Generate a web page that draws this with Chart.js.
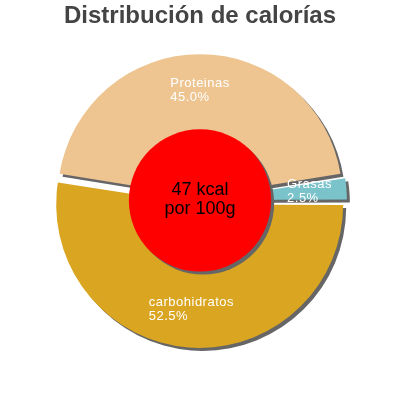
<!DOCTYPE html>
<html>
<head>
<meta charset="utf-8">
<script src="https://cdn.jsdelivr.net/npm/chart.js@4/dist/chart.umd.min.js"></script>
<style>
  html, body { margin: 0; padding: 0; background: #fff; }
  #wrap { width: 400px; height: 400px; }
</style>
</head>
<body>
<div id="wrap"><canvas id="chart"></canvas></div>
<script>
// calorie split, clockwise from 3 o'clock
const categories = ["carbohidratos", "Proteinas", "Grasas"];
const percents = [52.5, 45.0, 2.5];
const sliceColors = ["#DAA520", "#EEC591", "#7AC3CB"];
const centerLines = ["47 kcal", "por 100g"];
const title = "Distribución de calorías";

const FONT = "'Liberation Sans', Arial, sans-serif";

// gray drop shadow under the slices
const shadowPlugin = {
  id: "shadow",
  beforeDatasetsDraw(chart) {
    const ctx = chart.ctx;
    ctx.save();
    ctx.shadowColor = "#666";
    ctx.shadowOffsetX = 3;
    ctx.shadowOffsetY = 3;
    ctx.shadowBlur = 0;
  },
  afterDatasetsDraw(chart) {
    chart.ctx.restore();
  }
};

// red disc in the middle + slice labels
const centerPlugin = {
  id: "center",
  afterDatasetsDraw(chart) {
    const ctx = chart.ctx;
    const meta = chart.getDatasetMeta(0);
    const a0 = meta.data[0];
    const cx = a0.x, cy = a0.y, R = a0.outerRadius;

    ctx.save();
    ctx.shadowColor = "#666";
    ctx.shadowOffsetX = 3;
    ctx.shadowOffsetY = 3;
    ctx.beginPath();
    ctx.arc(cx, cy, R * 0.51, 0, Math.PI * 2);
    ctx.fillStyle = "#FF0000";
    ctx.fill();
    ctx.restore();

    ctx.save();
    ctx.fillStyle = "#000";
    ctx.font = "18px " + FONT;
    ctx.textAlign = "center";
    ctx.textBaseline = "middle";
    ctx.fillText(centerLines[0], cx, cy - 10);
    ctx.fillText(centerLines[1], cx, cy + 9);
    ctx.restore();

    ctx.save();
    ctx.fillStyle = "#fff";
    ctx.font = "13px " + FONT;
    ctx.letterSpacing = "0.5px";
    ctx.textBaseline = "middle";
    ctx.textAlign = "left";
    meta.data.forEach((arc, i) => {
      const p = arc.getProps(["startAngle", "endAngle"], true);
      const mid = (p.startAngle + p.endAngle) / 2;
      // the arc element moves by half of its offset option
      const off = (arc.options.offset || 0) / 2;
      const r = off + R * 0.73;
      const x = cx + Math.cos(mid) * r;
      const y = cy + Math.sin(mid) * r;
      const lines = [categories[i], percents[i].toFixed(1) + "%"];
      const w = Math.max(...lines.map(t => ctx.measureText(t).width));
      ctx.fillText(lines[0], x - w / 2, y - 7);
      ctx.fillText(lines[1], x - w / 2, y + 7);
    });
    ctx.restore();
  }
};

new Chart(document.getElementById("chart"), {
  type: "pie",
  data: {
    labels: categories,
    datasets: [{
      data: percents,
      backgroundColor: sliceColors,
      borderWidth: 0,
      offset: 16
    }]
  },
  options: {
    responsive: true,
    maintainAspectRatio: false,
    animation: false,
    rotation: 90,
    radius: 139.5,
    layout: { padding: { top: 0, bottom: 38, left: 0, right: 0 } },
    plugins: {
      legend: { display: false },
      tooltip: { enabled: false },
      title: {
        display: true,
        text: title,
        color: "#444",
        font: { family: FONT, size: 24, weight: "bold" },
        padding: { top: 2, bottom: 8 }
      }
    }
  },
  plugins: [shadowPlugin, centerPlugin]
});
</script>
</body>
</html>
